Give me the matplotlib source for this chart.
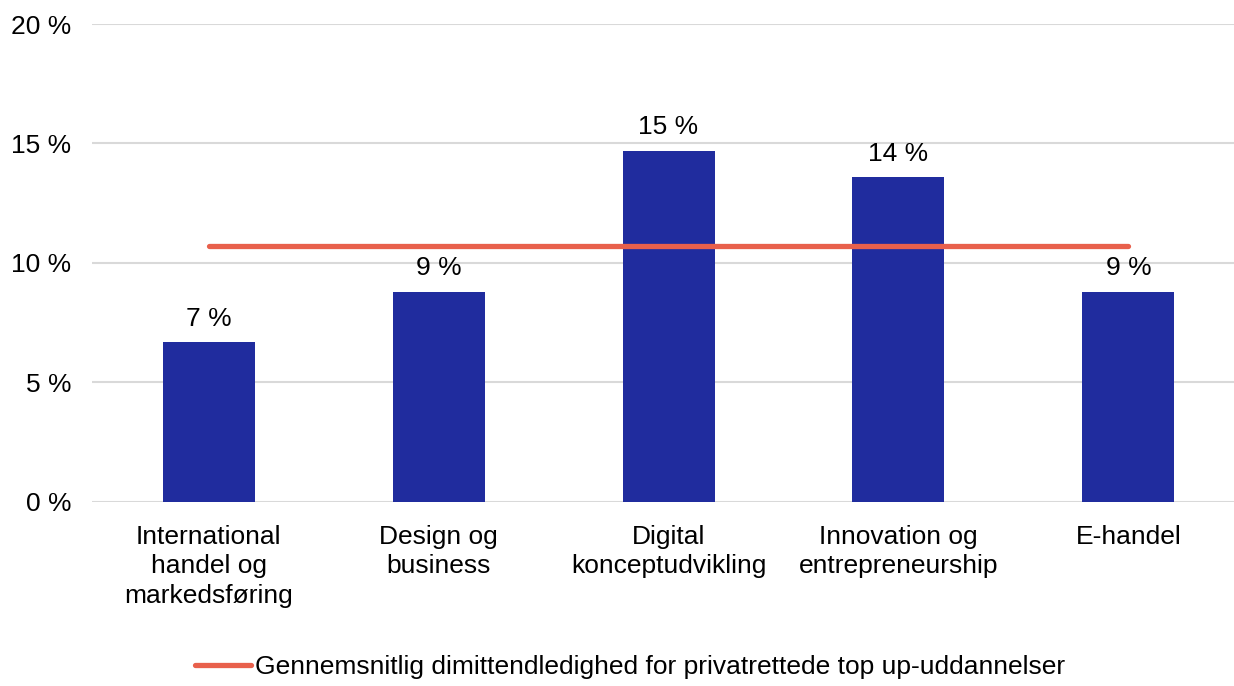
import matplotlib
matplotlib.use('Agg')
import matplotlib.pyplot as plt
from matplotlib.ticker import FuncFormatter

plt.rcParams['font.family'] = ['Liberation Sans', 'DejaVu Sans']

# data
categories = ['International\nhandel og\nmarkedsføring', 'Design og\nbusiness', 'Digital\nkonceptudvikling',
              'Innovation og\nentrepreneurship', 'E-handel']
values = [6.7, 8.8, 14.7, 13.6, 8.8]
labels = ['7 %', '9 %', '15 %', '14 %', '9 %']
average = [10.7, 10.7, 10.7, 10.7, 10.7]
avg_label = 'Gennemsnitlig dimittendledighed for privatrettede top up-uddannelser'

bar_color = '#202C9E'
line_color = '#E8604C'
fs = 19

fig = plt.figure(figsize=(12.34, 6.86), dpi=100)
ax = fig.add_axes([92 / 1234, 184.3 / 686, 1 - 92 / 1234, (501.7 - 24) / 686])

x = list(range(len(categories)))
bars = ax.bar(x, values, width=0.4, color=bar_color, zorder=2)
for b, lab in zip(bars, labels):
    ax.annotate(lab, (b.get_x() + b.get_width() / 2, b.get_height()), xytext=(0, 8),
                textcoords='offset points', ha='center', va='bottom', fontsize=fs)

ax.plot(x, average, color=line_color, lw=3.8, solid_capstyle='round', zorder=3, label=avg_label)

ax.set_ylim(0, 20)
ax.set_xlim(-0.507, 4.459)
ax.set_yticks([0, 5, 10, 15, 20])
ax.yaxis.set_major_formatter(FuncFormatter(lambda v, p: '%d %%' % v))
ax.set_xticks(x)
ax.set_xticklabels(categories, fontsize=fs, linespacing=1.27)
ax.tick_params(axis='y', labelsize=fs, length=0, pad=15)
ax.tick_params(axis='x', length=0, pad=17)
ax.grid(axis='y', color='#D9D9D9', lw=1.5, zorder=0)
for s in ax.spines.values():
    s.set_visible(False)

fig.legend(loc='center', bbox_to_anchor=(630 / 1234, 1 - 667 / 686), frameon=False, fontsize=fs,
           handlelength=2.1, handletextpad=0.15)

fig.savefig('out.png', dpi=100)
